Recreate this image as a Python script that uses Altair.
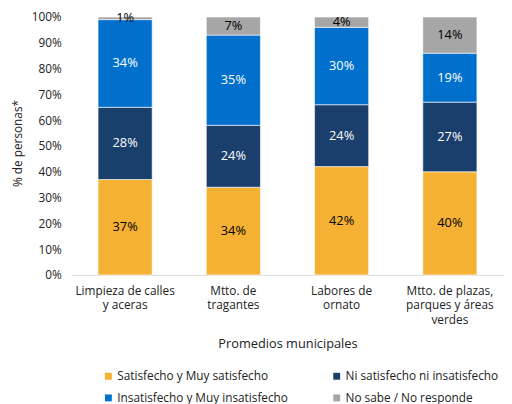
import altair as alt
import pandas as pd

categorias = [
    "Limpieza de calles\ny aceras",
    "Mtto. de\ntragantes",
    "Labores de\nornato",
    "Mtto. de plazas,\nparques y áreas\nverdes",
]
series = [
    "Satisfecho y Muy satisfecho",
    "Ni satisfecho ni insatisfecho",
    "Insatisfecho y Muy insatisfecho",
    "No sabe / No responde",
]
satisfecho = [37, 34, 42, 40]
ni_satisfecho = [28, 24, 24, 27]
insatisfecho = [34, 35, 30, 19]
no_sabe = [1, 7, 4, 14]
colores = ["#F4B133", "#1B3F6C", "#0070CC", "#A6A6A6"]
y_ticks = [0, 10, 20, 30, 40, 50, 60, 70, 80, 90, 100]

rows = []
for orden, (s, vals) in enumerate(zip(series, [satisfecho, ni_satisfecho, insatisfecho, no_sabe])):
    for c, v in zip(categorias, vals):
        rows.append({"cat": c, "serie": s, "orden": orden, "valor": v})
df = pd.DataFrame(rows)

# legend is filled column by column: order the domain so rows read left-to-right
leg_order = [0, 2, 1, 3]
leg_domain = [series[i] for i in leg_order]
leg_range = [colores[i] for i in leg_order]

FONT = "Open Sans"
TXT = "#222222"

base = (
    alt.Chart(df)
    .transform_stack(
        stack="valor", groupby=["cat"], sort=[alt.SortField("orden")], as_=["y0", "y1"]
    )
    .transform_calculate(ymid="(datum.y0 + datum.y1) / 2", etiqueta="datum.valor + '%'")
)

x_axis = alt.Axis(
    title="Promedios municipales",
    labelAngle=0,
    labelExpr="split(datum.label, '\\n')",
    labelLineHeight=14.5,
    labelPadding=11,
    labelFontSize=12,
    labelFont=FONT,
    labelColor=TXT,
    labelOverlap=False,
    ticks=False,
    tickSize=0,
    domainColor="#D9D9D9",
    domainWidth=1,
    titleFont=FONT,
    titleFontSize=13,
    titleFontWeight="normal",
    titleColor=TXT,
    titleY=70,
    titleBaseline="middle",
)

y_axis = alt.Axis(
    title="% de personas*",
    values=y_ticks,
    tickCount=11,
    labelExpr="datum.value + '%'",
    labelOverlap=False,
    grid=False,
    domain=False,
    ticks=False,
    tickSize=0,
    labelPadding=10,
    labelFontSize=12,
    labelFont=FONT,
    labelColor=TXT,
    titleFont=FONT,
    titleFontSize=12,
    titleFontWeight="normal",
    titleColor=TXT,
    titleAngle=-90,
    titleX=-54,
    titleY=128,
    titleAlign="center",
    titleBaseline="middle",
)

x_scale = alt.Scale(paddingInner=0.5, paddingOuter=0.25)
y_scale = alt.Scale(domain=[0, 100])

bars = base.mark_bar(stroke="white", strokeWidth=0.6).encode(
    x=alt.X("cat:N", sort=categorias, scale=x_scale, axis=x_axis),
    y=alt.Y("y0:Q", scale=y_scale, axis=y_axis),
    y2="y1:Q",
    color=alt.Color(
        "serie:N",
        scale=alt.Scale(domain=leg_domain, range=leg_range),
        legend=alt.Legend(
            title=None,
            orient="none",
            legendX=32,
            legendY=359,
            columns=2,
            symbolType="square",
            symbolSize=49,
            symbolStrokeWidth=0,
            labelFont=FONT,
            labelFontSize=12,
            labelColor=TXT,
            labelOffset=3,
            labelLimit=300,
            columnPadding=43,
            rowPadding=10,
            padding=0,
        ),
    ),
)

text = base.mark_text(font=FONT, fontSize=13).encode(
    x=alt.X("cat:N", sort=categorias, scale=x_scale, axis=x_axis),
    y=alt.Y("ymid:Q", scale=y_scale, axis=y_axis),
    text="etiqueta:N",
    color=alt.condition(
        "datum.orden == 1 || datum.orden == 2", alt.value("white"), alt.value("black")
    ),
)

chart = (
    alt.layer(bars, text)
    .properties(
        width=440,
        height=262,
        autosize=alt.AutoSizeParams(type="none"),
        padding={"left": 64, "top": 6, "right": 0, "bottom": 128},
    )
    .configure_view(stroke=None)
)

chart.save("out.html", embed_options={"renderer": "svg", "actions": False})
